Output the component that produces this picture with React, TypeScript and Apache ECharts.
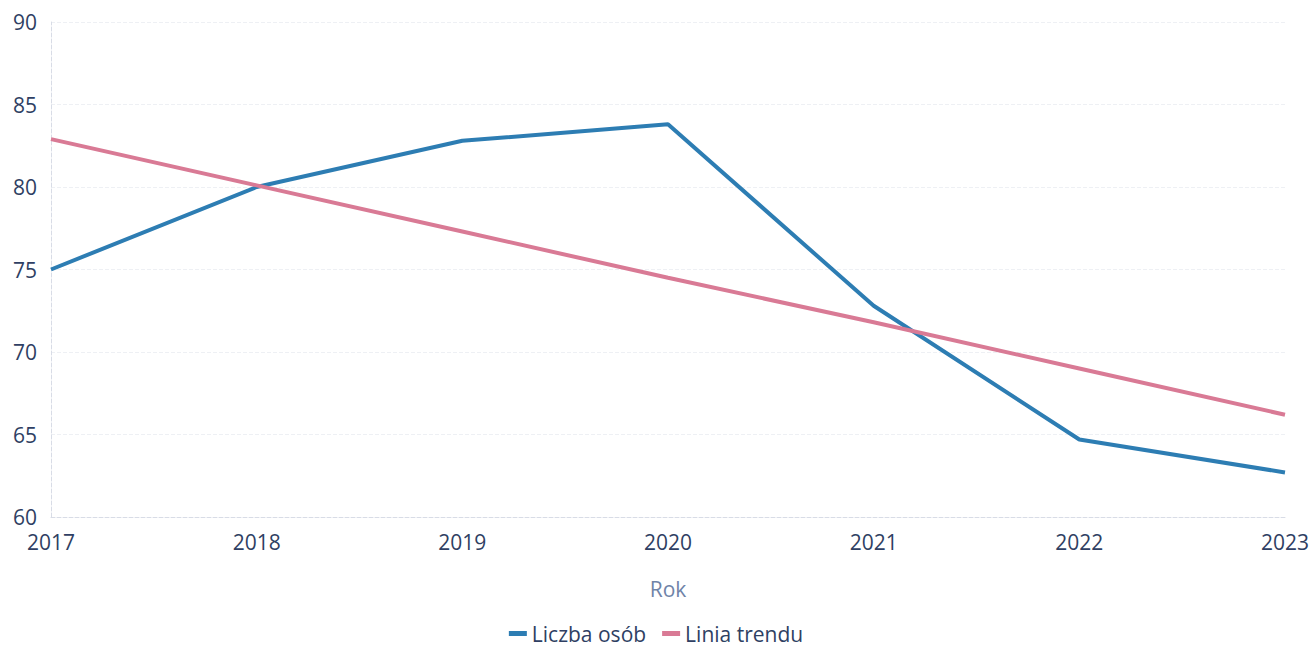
import React, { useEffect, useRef } from "react";
import * as echarts from "echarts";

const years = ["2017", "2018", "2019", "2020", "2021", "2022", "2023"];
const liczbaOsob = [75, 80, 82.8, 83.8, 72.8, 64.7, 62.7];
const liniaTrendu = [82.9, 80.1, 77.3, 74.5, 71.8, 69.0, 66.2];

export default function App() {
  const ref = useRef<HTMLDivElement>(null);
  useEffect(() => {
    if (!ref.current) return;
    const chart = echarts.init(ref.current, null, { renderer: "svg" });
    const font = "'Open Sans', 'Noto Sans', sans-serif";
    chart.setOption({
      animation: false,
      backgroundColor: "#ffffff",
      grid: { left: 51, right: 25, top: 22, bottom: 132, containLabel: false },
      legend: {
        bottom: 0,
        left: "center",
        itemWidth: 18,
        itemHeight: 5,
        itemGap: 16,
        icon: "rect",
        textStyle: { color: "#2f3f63", fontSize: 21, fontFamily: font },
        data: ["Liczba osób", "Linia trendu"],
      },
      xAxis: {
        type: "category",
        data: years,
        boundaryGap: false,
        name: "Rok",
        nameLocation: "middle",
        nameGap: 61,
        nameTextStyle: { color: "#6f83a8", fontSize: 21, fontFamily: font },
        axisLine: { show: true, lineStyle: { color: "#d8dce6", type: "dashed" } },
        axisTick: { show: false },
        axisLabel: { color: "#2f3f63", fontSize: 21, margin: 14, fontFamily: font },
        splitLine: { show: false },
      },
      yAxis: {
        type: "value",
        min: 60,
        max: 90,
        interval: 5,
        axisLine: { show: true, lineStyle: { color: "#d8dce6", type: "dashed" } },
        axisTick: { show: false },
        axisLabel: { color: "#2f3f63", fontSize: 21, margin: 14, fontFamily: font },
        splitLine: { show: true, lineStyle: { color: "#eef0f4", type: "dashed" } },
      },
      series: [
        {
          name: "Liczba osób",
          type: "line",
          data: liczbaOsob,
          showSymbol: false,
          lineStyle: { color: "#2d7db3", width: 4 },
          itemStyle: { color: "#2d7db3" },
        },
        {
          name: "Linia trendu",
          type: "line",
          data: liniaTrendu,
          showSymbol: false,
          lineStyle: { color: "#d97a95", width: 4 },
          itemStyle: { color: "#d97a95" },
        },
      ],
    });
    return () => chart.dispose();
  }, []);
  return (
    <div
      ref={ref}
      style={{ position: "fixed", left: 0, top: 0, width: 1312, height: 649 }}
    />
  );
}
